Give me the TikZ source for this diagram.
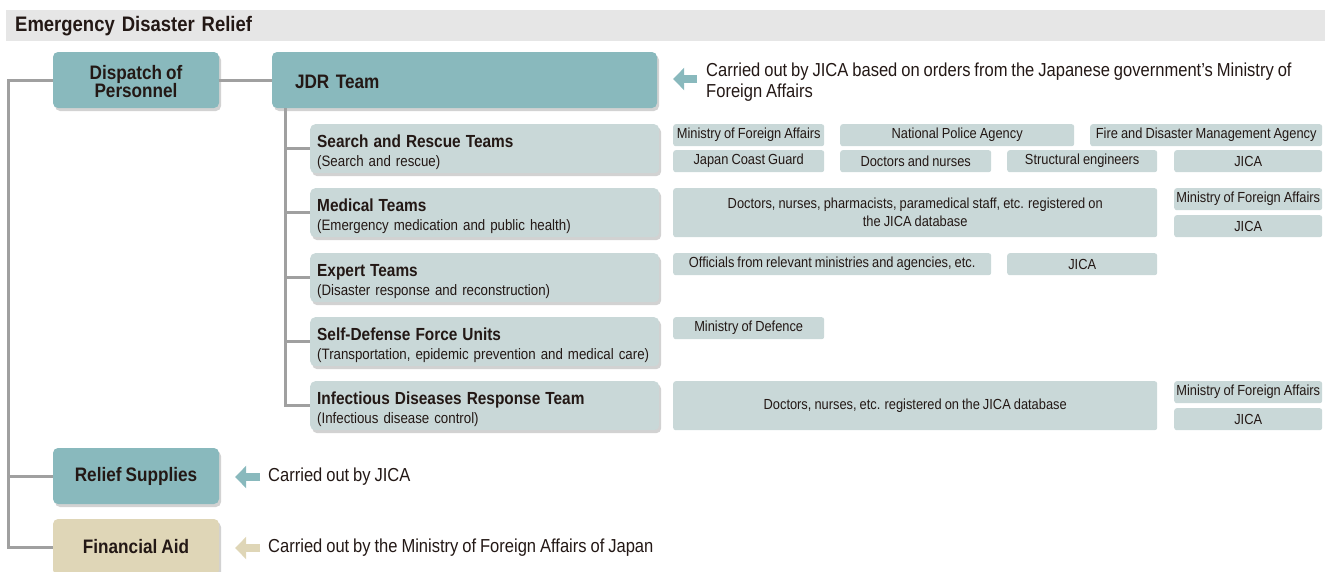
\documentclass[tikz,border=0pt]{standalone}
\usepackage{fontspec}
\setmainfont{Liberation Sans}[FakeStretch=0.88, WordSpace=0.85]
\usetikzlibrary{positioning,arrows.meta,shadows}
\definecolor{dteal}{RGB}{137,185,189}
\definecolor{dgrey}{RGB}{201,216,216}
\definecolor{dsand}{RGB}{223,214,183}
\definecolor{dbar}{RGB}{230,230,230}
\definecolor{dline}{RGB}{160,160,160}
\definecolor{dtext}{RGB}{35,24,21}
\tikzset{boxshadow/.style={drop shadow={opacity=0.25, fill=black!70, shadow xshift=2pt, shadow yshift=-3pt}},
mainbox/.style={fill=dteal, rounded corners=5pt, minimum width=166pt, minimum height=56pt, inner sep=0pt, align=center, font=\bfseries\fontsize{19.5}{18.5}\selectfont, boxshadow},
teambox/.style={fill=dgrey, rounded corners=5pt, anchor=north west, minimum height=49pt, text width=335pt, inner xsep=7pt, inner ysep=0pt, align=left, font=\fontsize{15.1}{19}\selectfont, boxshadow},
orgbox/.style={fill=dgrey, rounded corners=2.5pt, anchor=north west, minimum height=22pt, inner sep=0pt, align=center, font=\fontsize{14.6}{18}\selectfont},
note/.style={anchor=west, inner sep=0pt, align=left, font=\fontsize{18.8}{21.5}\selectfont},
link/.style={draw=dline, line width=3pt},
pointer/.style={line width=8pt, -{Triangle[length=11pt,width=22pt]}}
}
\newcommand{\teamhead}[1]{{\rule{0pt}{20pt}\bfseries\fontsize{17.5}{19}\selectfont #1}}

\begin{document}
\begin{tikzpicture}[x=1pt, y=-1pt, text=dtext]
    \clip (0,0) rectangle (1325,571);
    % Nodes
    \node [anchor=north west, fill=dbar, minimum height=31pt, text width=1301pt, inner xsep=9pt, inner ysep=0pt, align=left, font=\bfseries\fontsize{21}{24}\selectfont] (title) at (6,10) {Emergency Disaster Relief};
    \node [mainbox] (dispatch) at (136,80) {\rule{0pt}{17pt}Dispatch of\\Personnel};
    \node [mainbox, minimum width=385pt, text width=339pt, align=left] (jdr) at (464.5,80) {\rule{0pt}{17pt}JDR Team};
    \node [mainbox] (relief) at (136,476) {Relief Supplies};
    \node [mainbox, fill=dsand] (financial) at (136,547) {Financial Aid};

    \node [teambox] (search) at (310,124) {\teamhead{Search and Rescue Teams}\\(Search and rescue)};
    \node [teambox] (medical) at (310,188) {\teamhead{Medical Teams}\\(Emergency medication and public health)};
    \node [teambox] (expert) at (310,253) {\teamhead{Expert Teams}\\(Disaster response and reconstruction)};
    \node [teambox] (sdf) at (310,317) {\teamhead{Self-Defense Force Units}\\\mbox{(Transportation, epidemic prevention and medical care)}};
    \node [teambox] (infect) at (310,381) {\teamhead{Infectious Diseases Response Team}\\(Infectious disease control)};

    % Participating organisations
    \node [orgbox, minimum width=151pt] (sr1) at (673,124) {Ministry of Foreign Affairs};
    \node [orgbox, minimum width=234pt] (sr2) at (840,124) {National Police Agency};
    \node [orgbox, minimum width=232pt] (sr3) at (1090,124) {Fire and Disaster Management Agency};
    \node [orgbox, minimum width=151pt] (sr4) at (673,150) {Japan Coast Guard};
    \node [orgbox, minimum width=151pt] (sr5) at (840,150) {Doctors and nurses};
    \node [orgbox, minimum width=150pt] (sr6) at (1007,150) {Structural engineers};
    \node [orgbox, minimum width=148pt] (sr7) at (1174,150) {JICA};
    \node [orgbox, minimum width=484pt, minimum height=49pt] (md1) at (673,188) {Doctors, nurses, pharmacists, paramedical staff, etc. registered on\\the JICA database};
    \node [orgbox, minimum width=148pt] (md2) at (1174,188) {Ministry of Foreign Affairs};
    \node [orgbox, minimum width=148pt] (md3) at (1174,215) {JICA};
    \node [orgbox, minimum width=318pt] (ex1) at (673,253) {Officials from relevant ministries and agencies, etc.};
    \node [orgbox, minimum width=150pt] (ex2) at (1007,253) {JICA};
    \node [orgbox, minimum width=151pt] (sd1) at (673,317) {Ministry of Defence};
    \node [orgbox, minimum width=484pt, minimum height=49pt] (in1) at (673,381) {Doctors, nurses, etc. registered on the JICA database};
    \node [orgbox, minimum width=148pt] (in2) at (1174,381) {Ministry of Foreign Affairs};
    \node [orgbox, minimum width=148pt] (in3) at (1174,408) {JICA};

    % Notes
    \node [note] (jdrnote) at (706,82) {Carried out by JICA based on orders from the Japanese government’s Ministry of\\Foreign Affairs};
    \node [note] (reliefnote) at (268,477) {Carried out by JICA};
    \node [note] (finnote) at (268,548) {Carried out by the Ministry of Foreign Affairs of Japan};

    % Lines
    \coordinate (trunk) at (8.5,80);
    \coordinate (jdrtrunk) at (285,108);
    \draw [link] (dispatch) -- (jdr);
    \draw [link] (dispatch.west) -- (trunk) |- (financial.west);
    \draw [link] (relief.west) -- (relief.west -| trunk);
    \draw [link] (jdrtrunk) |- (infect.west);
    \foreach \team in {search,medical,expert,sdf}
        \draw [link] (\team.west) -- (\team.west -| jdrtrunk);
    % Arrows
    \draw [pointer, draw=dteal, shorten <=9pt, shorten >=16pt] ([yshift=3pt]jdrnote.west) -- ([yshift=3pt]jdrnote.west -| jdr.east);
    \draw [pointer, draw=dteal, shorten <=8pt, shorten >=16pt] (reliefnote.west) -- (reliefnote.west -| relief.east);
    \draw [pointer, draw=dsand, shorten <=8pt, shorten >=16pt] (finnote.west) -- (finnote.west -| financial.east);
\end{tikzpicture}
\end{document}
